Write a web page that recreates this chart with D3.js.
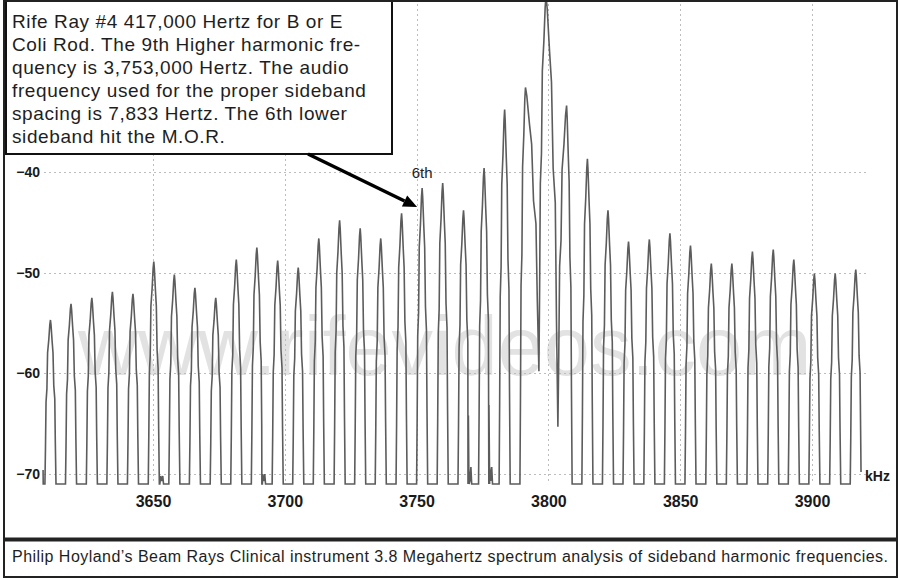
<!DOCTYPE html>
<html><head><meta charset="utf-8">
<script src="https://cdn.jsdelivr.net/npm/d3@7"></script>
<style>
body{margin:0;background:#fff}
svg{display:block}
text{font-family:"Liberation Sans",Arial,Helvetica,sans-serif}
</style>
</head><body>
<svg id="c" width="900" height="580"></svg>
<script>
// ---------------- data ----------------
const peakFreqs = [
  3611.1, 3618.9, 3626.8, 3634.6, 3642.4, 3650.3, 3658.1, 3665.9, 3673.8, 3681.6,
  3689.4, 3697.3, 3705.1, 3712.9, 3720.8, 3728.6, 3736.4, 3744.3, 3752.1, 3759.9,
  3767.8, 3775.6, 3783.4, 3791.3, 3799.1, 3806.9, 3814.8, 3822.6, 3830.4, 3838.3,
  3846.1, 3853.9, 3861.8, 3869.6, 3877.4, 3885.3, 3893.1, 3900.9, 3908.8, 3916.6
];
const peakLevels = [
  -54.7, -53.1, -52.5, -51.9, -52.1, -48.9, -50.2, -51.5, -52.5, -48.7,
  -47.5, -48.8, -49.5, -46.6, -44.8, -45.6, -46.6, -44.1, -41.6, -41.1,
  -43.8, -39.6, -33.8, -31.6, -22.5, -33.4, -38.7, -43.8, -46.9, -46.7,
  -46.1, -47.3, -49.1, -49.1, -47.9, -47.7, -48.7, -50.1, -50.1, -49.7
];
const raisedValleyFreqs = [3796.4, 3803.6];
const raisedValleyLevels = [-59.8, -65.3];
const floorLevel = -71;
const traceStart = [3608.3, -69.6];
const traceEnd = [3918.6, -69.8];
const glitchFreqs = [3653.4, 3692.1, 3770.3, 3778.2];
const glitchLevels = [-70.2, -70.0, -69.3, -69.3];
const xTicks = [3650, 3700, 3750, 3800, 3850, 3900];
const yTicks = [-40, -50, -60, -70];
const xUnit = "kHz";
const markedPeakIndex = 18;
const markerLabel = "6th";
const noteLines = [
  "Rife Ray #4 417,000 Hertz for B or E",
  "Coli Rod. The 9th Higher harmonic fre-",
  "quency is 3,753,000 Hertz. The audio",
  "frequency used for the proper sideband",
  "spacing is 7,833 Hertz. The 6th lower",
  "sideband hit the M.O.R."
];
const watermark = "www.rifevideos.com";
const caption = "Philip Hoyland\u2019s Beam Rays Clinical instrument 3.8 Megahertz spectrum analysis of sideband harmonic frequencies.";

// ---------------- layout ----------------
const W = 900, H = 580;
const svg = d3.select("#c");
const x = d3.scaleLinear().domain([3650, 3900]).range([153, 812]);
const y = d3.scaleLinear().domain([-40, -70]).range([172, 474]);

svg.append("rect").attr("width", W).attr("height", H).attr("fill", "#fff");

svg.append("defs").append("clipPath").attr("id", "plotclip")
  .append("rect").attr("x", 5).attr("y", 2).attr("width", 891).attr("height", 535);

// watermark
svg.append("text").text(watermark)
  .attr("x", 78).attr("y", 375)
  .attr("font-size", 83)
  .attr("fill", "#e2e2e2");

// gridlines
const grid = svg.append("g").attr("stroke", "#bdbdbd").attr("stroke-width", 1)
  .attr("stroke-dasharray", "2,3");
grid.selectAll("line.h").data(yTicks).join("line")
  .attr("x1", 44).attr("x2", 866)
  .attr("y1", d => Math.round(y(d)) + 0.5).attr("y2", d => Math.round(y(d)) + 0.5);
grid.selectAll("line.v").data(xTicks).join("line")
  .attr("x1", d => Math.round(x(d)) + 0.5).attr("x2", d => Math.round(x(d)) + 0.5)
  .attr("y1", 4).attr("y2", y(floorLevel));

// ---------------- trace ----------------
const footHalf = 2.1; // kHz
const leftShape = [[-1, 0], [-0.9, 0.22], [-0.8, 0.5], [-0.64, 0.58], [-0.52, 0.8],
                   [-0.3, 0.88], [-0.12, 0.97], [0, 1]];
const rightShape = [[0.1, 0.97], [0.3, 0.87], [0.46, 0.8], [0.6, 0.6], [0.78, 0.52],
                    [0.88, 0.25], [1, 0]];

function valleyBetween(f1, f2) {
  for (let j = 0; j < raisedValleyFreqs.length; j++) {
    if (raisedValleyFreqs[j] > f1 && raisedValleyFreqs[j] < f2) return j;
  }
  return -1;
}
const pts = [traceStart, [traceStart[0] + 0.05, floorLevel]];
peakFreqs.forEach((f, i) => {
  const top = peakLevels[i];
  const lv = i > 0 ? valleyBetween(peakFreqs[i - 1], f) : -1;
  const rv = i < peakFreqs.length - 1 ? valleyBetween(f, peakFreqs[i + 1]) : -1;
  const lBase = lv >= 0 ? raisedValleyLevels[lv] : floorLevel;
  const lDist = lv >= 0 ? f - raisedValleyFreqs[lv] : footHalf;
  const rBase = rv >= 0 ? raisedValleyLevels[rv] : floorLevel;
  const rDist = rv >= 0 ? raisedValleyFreqs[rv] - f : footHalf;
  leftShape.forEach(([t, fr]) => pts.push([f + t * lDist, lBase + fr * (top - lBase)]));
  rightShape.forEach(([t, fr]) => pts.push([f + t * rDist, rBase + fr * (top - rBase)]));
});
pts[pts.length - 1] = traceEnd;
// small glitches on the floor
glitchFreqs.forEach((g, i) => {
  pts.push([g - 0.8, floorLevel], [g - 0.5, glitchLevels[i]], [g - 0.1, floorLevel + 0.3],
           [g + 0.3, glitchLevels[i]], [g + 0.6, floorLevel]);
});
pts.sort((a, b) => a[0] - b[0]);

const line = d3.line().x(d => x(d[0])).y(d => y(d[1]));
svg.append("g").attr("clip-path", "url(#plotclip)")
  .append("path").attr("d", line(pts))
  .attr("fill", "none").attr("stroke", "#5c5c5c").attr("stroke-width", 1.6)
  .attr("stroke-linejoin", "miter");

// ---------------- axes ----------------
const xAxis = svg.append("g").attr("transform", `translate(0,${y(floorLevel)})`)
  .call(d3.axisBottom(x).tickValues(xTicks).tickSize(0).tickPadding(12).tickFormat(d3.format("d")));
xAxis.select(".domain").remove();
xAxis.selectAll("text").attr("font-size", 16).attr("font-weight", "bold").attr("fill", "#1a1a1a")
  .attr("font-family", "Liberation Sans, Arial, sans-serif");

const yAxis = svg.append("g").attr("transform", "translate(40,0)")
  .call(d3.axisLeft(y).tickValues(yTicks).tickSize(0).tickPadding(0).tickFormat(d3.format("d")));
yAxis.select(".domain").remove();
yAxis.selectAll("text").attr("font-size", 14).attr("font-weight", "bold").attr("fill", "#1a1a1a")
  .attr("font-family", "Liberation Sans, Arial, sans-serif");

svg.append("text").text(xUnit).attr("x", 865).attr("y", y(-70) + 7)
  .attr("font-size", 14).attr("font-weight", "bold").attr("fill", "#1a1a1a");

// ---------------- annotation ----------------
svg.append("rect").attr("x", 6).attr("y", 1).attr("width", 386).attr("height", 153)
  .attr("fill", "#fff").attr("stroke", "#111").attr("stroke-width", 2);
svg.append("g").selectAll("text").data(noteLines).join("text")
  .text(d => d)
  .attr("x", 12).attr("y", (d, i) => 28 + i * 23)
  .attr("font-size", 19).attr("letter-spacing", 0.6).attr("fill", "#1e1e1e");

const pf = peakFreqs[markedPeakIndex], pl = peakLevels[markedPeakIndex];
const tip = [x(pf) - 5, y(pl) + 19];
const start = [308, 154];
const ang = Math.atan2(tip[1] - start[1], tip[0] - start[0]);
const headLen = 14, headW = 6;
const base = [tip[0] - headLen * Math.cos(ang), tip[1] - headLen * Math.sin(ang)];
svg.append("line").attr("x1", start[0]).attr("y1", start[1]).attr("x2", base[0]).attr("y2", base[1])
  .attr("stroke", "#000").attr("stroke-width", 3.5);
svg.append("polygon").attr("points", [
  tip,
  [base[0] + headW * Math.sin(ang), base[1] - headW * Math.cos(ang)],
  [base[0] - headW * Math.sin(ang), base[1] + headW * Math.cos(ang)]
].map(p => p.join(",")).join(" ")).attr("fill", "#000");

svg.append("text").text(markerLabel).attr("x", x(pf)).attr("y", y(pl) - 10)
  .attr("text-anchor", "middle").attr("font-size", 15).attr("fill", "#222");

// ---------------- frame & caption ----------------
svg.append("rect").attr("x", 4).attr("y", 1).attr("width", 893).attr("height", 576)
  .attr("fill", "none").attr("stroke", "#222").attr("stroke-width", 2);
svg.append("line").attr("x1", 4).attr("x2", 897).attr("y1", 539.5).attr("y2", 539.5)
  .attr("stroke", "#222").attr("stroke-width", 4);
svg.append("text").text(caption).attr("x", 12).attr("y", 562)
  .attr("font-size", 16).attr("fill", "#1e1e1e")
  .attr("textLength", 876).attr("lengthAdjust", "spacing");
</script>
</body></html>
